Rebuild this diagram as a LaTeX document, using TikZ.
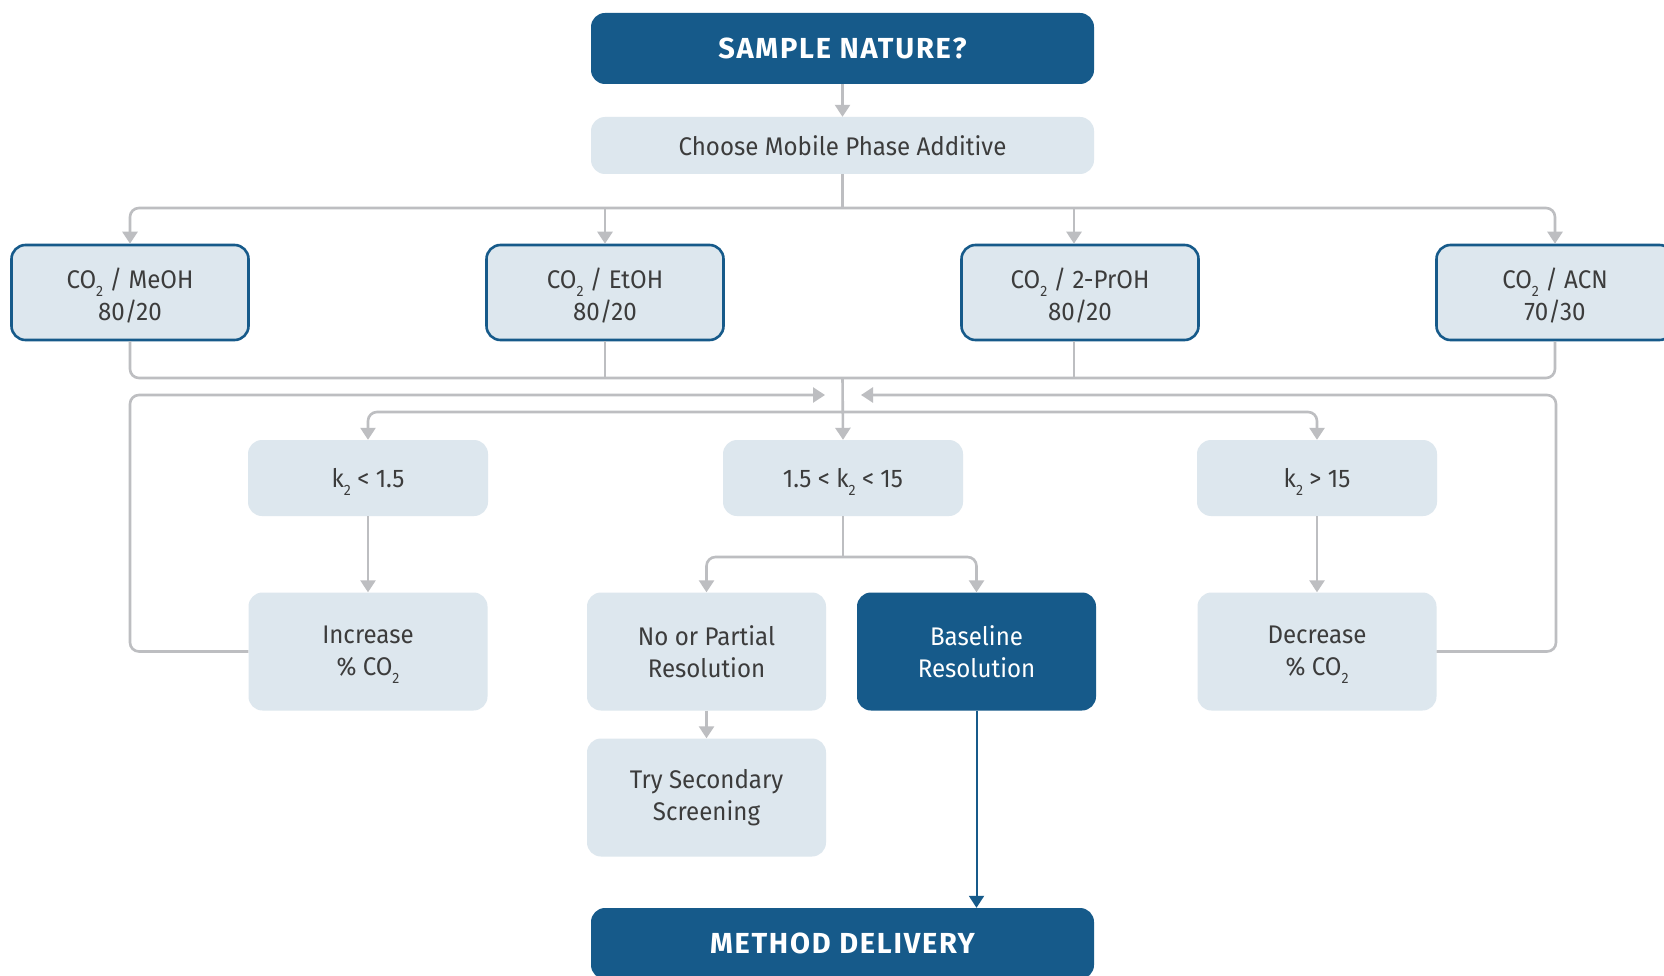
\documentclass[tikz,border=0pt]{standalone}
\usepackage{fontspec}
\setmainfont{Fira Sans}[FakeStretch=0.945]
\newfontfamily\headfont{Fira Sans}[LetterSpace=6]
\usetikzlibrary{arrows.meta}
\definecolor{dblue}{HTML}{165A8A}
\definecolor{lbox}{HTML}{DDE7EE}
\definecolor{gline}{HTML}{BDBEC1}
\definecolor{txt}{HTML}{3C3C3C}
\newcommand{\ltwo}{\raisebox{-8pt}[0pt][0pt]{\fontsize{15}{15}\selectfont 2}}
\newcommand{\tallstrut}{\rule{0pt}{26pt}}
\begin{document}
\begin{tikzpicture}[x=1pt,y=-1pt,
  >={Triangle[width=15pt,length=12pt]},
  lightbx/.style={fill=lbox, rounded corners=14pt, inner sep=0pt, align=center, text=txt,
    font=\fontsize{25.5}{32}\selectfont},
  co2bx/.style={lightbx, draw=dblue, line width=2.6pt, minimum width=237pt, minimum height=95pt},
  kbx/.style={lightbx, minimum width=240pt, minimum height=76pt},
  lowbx/.style={lightbx, minimum width=239pt, minimum height=118pt},
  darkbx/.style={fill=dblue, rounded corners=14pt, inner sep=0pt, align=center, text=white},
  headbx/.style={darkbx, minimum width=503pt, minimum height=71pt,
    font=\headfont\bfseries\fontsize{29}{30}\selectfont},
  gl/.style={draw=gline, line width=2.6pt, rounded corners=9pt},
  ar/.style={gl, ->}
]
\useasboundingbox (0,0) rectangle (1664,976);
\fill[white] (0,0) rectangle (1664,976);

\node[headbx] (sample) at (842.5,48.5) {SAMPLE NATURE?};
\node[lightbx, minimum width=503pt, minimum height=57pt] (choose) at (842.5,145.5) {Choose Mobile Phase Additive};

\node[co2bx] (meoh) at (130,292.5) {\tallstrut CO\ltwo{} / MeOH\\80/20};
\node[co2bx] (etoh) at (605,292.5) {\tallstrut CO\ltwo{} / EtOH\\80/20};
\node[co2bx] (proh) at (1080,292.5) {\tallstrut CO\ltwo{} / 2-PrOH\\80/20};
\node[co2bx] (acn) at (1555,292.5) {\tallstrut CO\ltwo{} / ACN\\70/30};

\node[kbx] (klow) at (368,478) {k\ltwo{} < 1.5};
\node[kbx] (kmid) at (843,478) {1.5 < k\ltwo{} < 15};
\node[kbx] (khigh) at (1317,478) {k\ltwo{} > 15};

\node[lowbx] (inc) at (368,651.5) {Increase\\\% CO\ltwo};
\node[lowbx] (nop) at (706.5,651.5) {No or Partial\\Resolution};
\node[lowbx, fill=dblue, text=white] (bres) at (976.5,651.5) {Baseline\\Resolution};
\node[lowbx] (dec) at (1317,651.5) {Decrease\\\% CO\ltwo};
\node[lowbx] (try) at (706.5,797.5) {Try Secondary\\Screening};

\node[headbx] (method) at (842.5,943.5) {METHOD DELIVERY};

\coordinate (split) at (842.5,208);
\coordinate (merge) at (842.5,378);
\coordinate (branch) at (842.5,412);
\coordinate (ksplit) at (843,557);
\coordinate (lcorner) at (130,395);
\coordinate (ltip) at (825,395);
\coordinate (rcorner) at (1556,395);
\coordinate (rtip) at (861,395);

% top
\draw[ar] (sample.south) -- (choose.north);
\draw[gl] (choose.south) -- (split);
\draw[gl, <->] (meoh.north) |- (split) -| (acn.north);
\draw[ar] (etoh.north |- split) -- (etoh.north);
\draw[ar] ([xshift=-6pt]proh.north |- split) -- ([xshift=-6pt]proh.north);

% merge
\draw[gl] (meoh.south) |- (merge) -| (acn.south);
\draw[gl] (etoh.south) -- (etoh.south |- merge);
\draw[gl] ([xshift=-6pt]proh.south) -- ([xshift=-6pt]proh.south |- merge);
\draw[ar] (merge) -- (kmid.north);
\draw[gl, <->] (klow.north) |- (branch) -| (khigh.north);

% feedback
\draw[ar] (inc.west) -| (lcorner) -- (ltip);
\draw[ar] (dec.east) -| (rcorner) -- (rtip);

% k results
\draw[ar] (klow.south) -- (inc.north);
\draw[ar] (khigh.south) -- (dec.north);
\draw[gl] (kmid.south) -- (ksplit);
\draw[gl, <->] (nop.north) |- (ksplit) -| (bres.north);
\draw[ar] (nop.south) -- (try.north);
\draw[draw=dblue, line width=2pt, ->] (bres.south) -- (bres.south |- method.north);
\end{tikzpicture}
\end{document}
